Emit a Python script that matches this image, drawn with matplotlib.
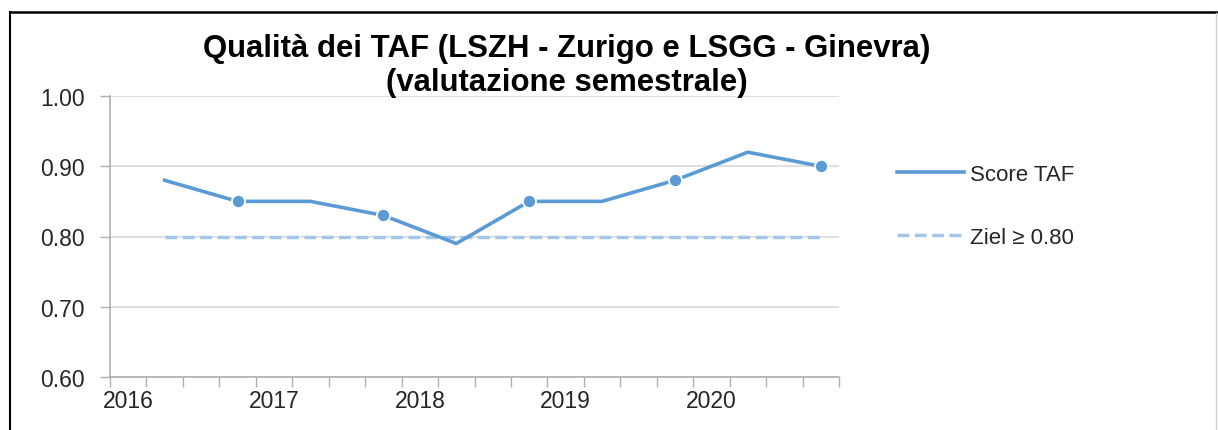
import matplotlib.pyplot as plt
from matplotlib.lines import Line2D

# semestral points (decimal year) and scores
periods = [2016.375, 2016.875, 2017.375, 2017.875, 2018.375,
           2018.875, 2019.375, 2019.875, 2020.375, 2020.875]
scores = [0.88, 0.85, 0.85, 0.83, 0.79, 0.85, 0.85, 0.88, 0.92, 0.90]
target = 0.80
marked = [1, 3, 5, 7, 9]

years = [2016, 2017, 2018, 2019, 2020]
y_ticks = [0.60, 0.70, 0.80, 0.90, 1.00]

BLUE = "#5B9BD5"
LIGHT = "#A4C6E8"
GRID = "#D9D9D9"

plt.rcParams["font.family"] = ["Liberation Sans", "DejaVu Sans"]

fig = plt.figure(figsize=(12.18, 4.31), dpi=100)
ax = fig.add_axes([110 / 1218, 1 - 378 / 431, 729 / 1218, 281 / 431])

ax.plot([periods[0], periods[-1]], [target, target], color=LIGHT, lw=2.5,
        dashes=(3.4, 1.6), zorder=3)
ax.plot(periods, scores, color=BLUE, lw=2.6, marker="o", markersize=9.5,
        markevery=marked, markeredgecolor="white", markeredgewidth=1.3,
        zorder=4)

ax.set_xlim(2016, 2021)
ax.set_ylim(0.60, 1.00)
ax.set_yticks(y_ticks)
ax.set_yticklabels([f"{v:.2f}" for v in y_ticks])

# year labels sit a bit right of the year tick, quarter tick marks
ax.set_xticks([y + 0.125 for y in years])
ax.set_xticklabels([str(y) for y in years])
quarters = [2016 + q * 0.25 for q in range(21)]
ax.set_xticks(quarters, minor=True)
ax.tick_params(axis="x", which="major", length=0, pad=9, labelsize=16.5, colors="#262626")
ax.tick_params(axis="x", which="minor", length=7, width=1, color="#B0B0B0", direction="out")
ax.tick_params(axis="y", length=7, width=1, color="#B0B0B0", pad=11, labelsize=16.5,
               labelcolor="#262626")

ax.grid(axis="y", color=GRID, lw=1.2)
ax.set_axisbelow(True)
for s in ["top", "right"]:
    ax.spines[s].set_visible(False)
for s in ["left", "bottom"]:
    ax.spines[s].set_color("#B0B0B0")
    ax.spines[s].set_linewidth(1.2)

handles = [Line2D([], [], color=BLUE, lw=2.6),
           Line2D([], [], color=LIGHT, lw=2.5, dashes=(3.4, 1.6))]
labels = ["Score TAF", "Ziel \u2265 0.80"]
ax.legend(handles, labels, loc="upper left",
          bbox_to_anchor=(897 / 1218, 1 - 165 / 431), bbox_transform=fig.transFigure,
          frameon=False, fontsize=16, handlelength=3.0, handletextpad=0.3,
          labelspacing=1.9, borderpad=0, borderaxespad=0, labelcolor="#262626")

fig.text(567 / 1218, 1 - 66 / 431,
         "Qualità dei TAF (LSZH - Zurigo e LSGG - Ginevra)\n(valutazione semestrale)",
         ha="center", va="center", fontsize=22.4, fontweight="bold", linespacing=1.15)

# outer frame of the screenshot
fig.add_artist(Line2D([10 / 1218, 1], [1 - 13 / 431, 1 - 13 / 431],
                      transform=fig.transFigure, color="black", lw=1.8))
fig.add_artist(Line2D([10 / 1218, 10 / 1218], [0, 1 - 13 / 431],
                      transform=fig.transFigure, color="black", lw=1.5))
fig.add_artist(Line2D([1216 / 1218, 1216 / 1218], [0, 1 - 14 / 431],
                      transform=fig.transFigure, color="#D0D0D0", lw=1))

fig.savefig("out.png", dpi=100)
